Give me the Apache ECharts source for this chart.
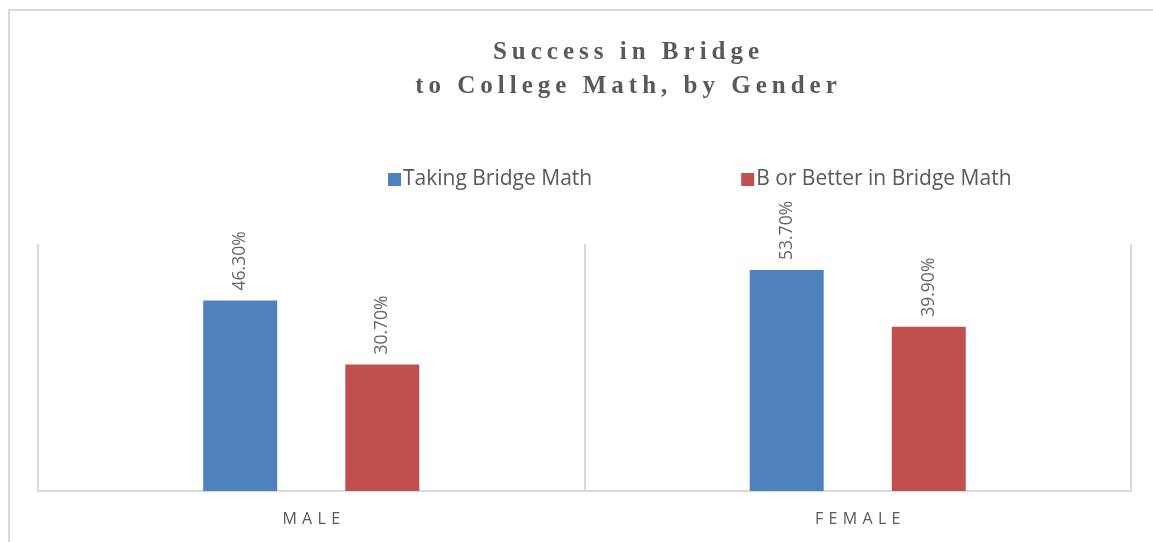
<!DOCTYPE html>
<html>
<head>
<meta charset="utf-8">
<script src="https://cdn.jsdelivr.net/npm/echarts@6/dist/echarts.min.js"></script>
<style>
  html, body { margin: 0; padding: 0; background: #ffffff; }
  #chart { width: 1153px; height: 542px; }
</style>
</head>
<body>
<div id="chart"></div>
<script>
// Share of students, by gender
const categories = ['MALE', 'FEMALE'];
const seriesNames = ['Taking Bridge Math', 'B or Better in Bridge Math'];
const takingBridge = [46.3, 53.7];
const bOrBetter = [30.7, 39.9];

const THIN = '\u2009';
const spaced = s => s.split('').join(THIN);
const titleLines = ['Success in Bridge', 'to College Math, by Gender'];

const chart = echarts.init(document.getElementById('chart'), null, { renderer: 'canvas' });

const labelStyle = {
  show: true,
  position: 'top',
  rotate: 90,
  align: 'left',
  verticalAlign: 'middle',
  distance: 10,
  color: '#666666',
  fontFamily: 'Open Sans, Liberation Sans, sans-serif',
  fontSize: 17.5,
  formatter: p => p.value.toFixed(2) + '%'
};

chart.setOption({
  animation: false,
  backgroundColor: '#ffffff',
  title: {
    text: titleLines.map(spaced).join('\n'),
    left: 621,
    textAlign: 'center',
    top: 31,
    textStyle: {
      fontFamily: 'Liberation Serif, Times New Roman, serif',
      fontWeight: 'bold',
      fontSize: 25,
      lineHeight: 34,
      color: '#595959'
    }
  },
  legend: {
    left: 383,
    top: 164,
    itemWidth: 13,
    itemHeight: 13,
    itemGap: 149,
    icon: 'rect',
    textStyle: {
      fontFamily: 'Open Sans, Liberation Sans, sans-serif',
      fontSize: 21,
      color: '#595959',
      padding: [0, 0, 0, -3]
    },
    data: seriesNames
  },
  graphic: [{
    type: 'rect',
    shape: { x: 9, y: 10, width: 1200, height: 600 },
    style: { fill: 'none', stroke: '#d9d9d9', lineWidth: 2 },
    silent: true
  }],
  grid: { left: 38, right: 22, top: 244, bottom: 51 },
  xAxis: {
    type: 'category',
    data: categories,
    axisLine: { show: true, lineStyle: { color: '#d9d9d9', width: 2 } },
    axisTick: { show: false },
    splitLine: { show: true, lineStyle: { color: '#d9d9d9', width: 2 } },
    axisLabel: {
      color: '#595959',
      fontFamily: 'Open Sans, Liberation Sans, sans-serif',
      fontSize: 16,
      margin: 20,
      formatter: v => v.split('').join(THIN + THIN)
    }
  },
  yAxis: {
    type: 'value',
    min: 0,
    max: 60,
    show: false,
    splitLine: { show: false }
  },
  series: [
    {
      name: seriesNames[0],
      type: 'bar',
      data: takingBridge,
      barWidth: 74,
      barGap: '92%',
      itemStyle: { color: '#4f81bd' },
      label: labelStyle
    },
    {
      name: seriesNames[1],
      type: 'bar',
      data: bOrBetter,
      barWidth: 74,
      itemStyle: { color: '#c0504d' },
      label: labelStyle
    }
  ]
});
</script>
</body>
</html>
